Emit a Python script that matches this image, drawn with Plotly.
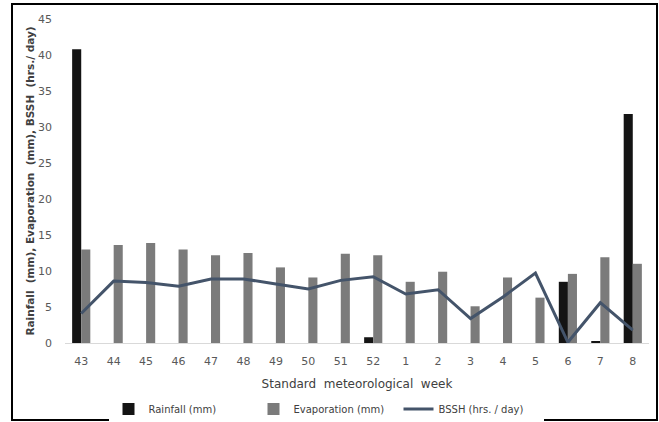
import plotly.graph_objects as go

weeks = ["43", "44", "45", "46", "47", "48", "49", "50", "51", "52",
         "1", "2", "3", "4", "5", "6", "7", "8"]
rainfall = [40.8, 0, 0, 0, 0, 0, 0, 0, 0, 0.8, 0, 0, 0, 0, 0, 8.5, 0.2, 31.8]
evaporation = [13.0, 13.6, 13.9, 13.0, 12.2, 12.5, 10.5, 9.1, 12.4, 12.2,
               8.5, 9.9, 5.1, 9.1, 6.3, 9.6, 11.9, 11.0]
bssh = [4.1, 8.6, 8.4, 7.9, 8.9, 8.9, 8.2, 7.5, 8.7, 9.2,
        6.8, 7.4, 3.4, 6.4, 9.7, 0.1, 5.6, 1.8]
y_ticks = [0, 5, 10, 15, 20, 25, 30, 35, 40, 45]

W, H = 659, 422
ml, mr, mt, mb = 65, 10, 19, 79
pw = W - ml - mr
ph = H - mt - mb

def px(x):
    return (x - ml) / pw

def py(y):
    return (H - mb - y) / ph

font_fam = "DejaVu Sans, Verdana, sans-serif"

fig = go.Figure()
fig.add_trace(go.Bar(x=weeks, y=rainfall, name="Rainfall (mm)",
                     marker=dict(color="#141414", line=dict(width=0))))
fig.add_trace(go.Bar(x=weeks, y=evaporation, name="Evaporation (mm)",
                     marker=dict(color="#7b7b7b", line=dict(width=0))))
fig.add_trace(go.Scatter(x=weeks, y=bssh, name="BSSH (hrs. / day)", mode="lines",
                         line=dict(color="#44546a", width=3)))

fig.update_layout(
    width=W, height=H,
    margin=dict(l=ml, r=mr, t=mt, b=mb, autoexpand=False),
    paper_bgcolor="white", plot_bgcolor="white",
    barmode="group", bargap=0.44, bargroupgap=0,
    font=dict(family=font_fam, color="#595959", size=11),
    showlegend=True,
    legend=dict(orientation="h", x=px(326), xanchor="center",
                y=py(409), yanchor="middle",
                font=dict(size=10, color="#404040"),
                itemwidth=30, entrywidth=100, tracegroupgap=0, traceorder="normal"),
    xaxis=dict(type="category", showgrid=False, showline=True, automargin=False,
               linecolor="#d9d9d9", linewidth=1, ticks="", ticklabelstandoff=8,
               tickfont=dict(size=11, color="#595959"),
               title=dict(text="Standard  meteorological  week",
                          font=dict(size=12, color="#404040"), standoff=12)),
    yaxis=dict(range=[0, 45], tickvals=y_ticks, showgrid=False, automargin=False,
               zeroline=False, showline=False, ticks="", ticklabelstandoff=12,
               tickfont=dict(size=11, color="#595959"),
               title=dict(text="<b>Rainfall  (mm), Evaporation  (mm), BSSH  (hrs./ day)</b>",
                          font=dict(size=10.5, color="#404040"), standoff=1)),
    shapes=[dict(type="rect", xref="paper", yref="paper",
                 x0=px(12), x1=px(657), y0=py(420), y1=py(4),
                 line=dict(color="#000000", width=2), layer="above")],
)

fig.write_html("out.html", config={"displayModeBar": False},
               post_script="document.body.style.margin='0px';document.body.style.padding='0px';")
